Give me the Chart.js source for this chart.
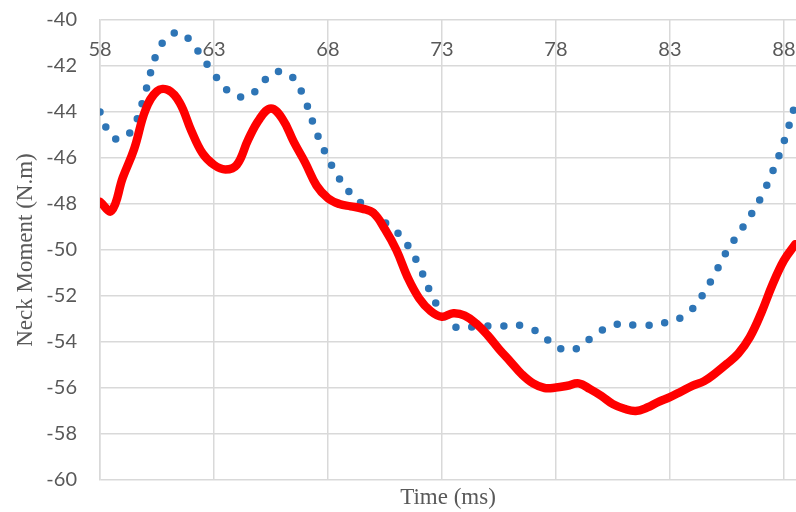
<!DOCTYPE html>
<html>
<head>
<meta charset="utf-8">
<script src="https://cdn.jsdelivr.net/npm/chart.js@4/dist/chart.umd.min.js"></script>
<style>
  html, body { margin: 0; padding: 0; background: #fff; }
  #wrap { width: 796px; height: 512px; }
</style>
</head>
<body>
<div id="wrap"><canvas id="c"></canvas></div>
<script>
'use strict';

// ── Data ──────────────────────────────────────────────────────────────────
const TIME = [
  58, 58.5, 59, 59.5, 60, 60.5, 61, 61.5, 62, 62.5,
  63, 63.5, 64, 64.5, 65, 65.5, 66, 66.5, 67, 67.5,
  68, 68.5, 69, 69.5, 70, 70.5, 71, 71.5, 72, 72.5,
  73, 73.5, 74, 74.5, 75, 75.5, 76, 76.5, 77, 77.5,
  78, 78.5, 79, 79.5, 80, 80.5, 81, 81.5, 82, 82.5,
  83, 83.5, 84, 84.5, 85, 85.5, 86, 86.5, 87, 87.5,
  88, 88.5,
];

// solid red series
const RED_VALUES = [
  -47.9, -48.3, -46.85, -45.6, -43.9, -43.1, -43.05, -43.6, -44.8, -45.8,
  -46.3, -46.5, -46.3, -45.2, -44.3, -43.85, -44.3, -45.3, -46.2, -47.2,
  -47.75, -48.0, -48.1, -48.2, -48.4, -49.1, -50.0, -51.2, -52.1, -52.65,
  -52.9, -52.75, -52.85, -53.2, -53.7, -54.3, -54.85, -55.4, -55.8, -56.0,
  -55.98, -55.9, -55.8, -56.05, -56.35, -56.7, -56.9, -57.0, -56.85, -56.6,
  -56.4, -56.15, -55.9, -55.7, -55.35, -54.95, -54.5, -53.8, -52.75, -51.5,
  -50.45, -49.75,
];

// dotted blue series
const BLUE_VALUES = [
  -44.0, -45.05, -45.15, -44.6, -43.1, -41.43, -40.72, -40.55, -40.95, -41.65,
  -42.35, -42.98, -43.3, -43.32, -42.9, -42.35, -42.25, -42.55, -43.5, -44.9,
  -46.0, -46.9, -47.55, -48.0, -48.38, -48.8, -49.2, -49.8, -50.7, -51.85,
  -52.75, -53.3, -53.38, -53.32, -53.3, -53.3, -53.3, -53.28, -53.45, -53.8,
  -54.2, -54.35, -54.25, -53.85, -53.5, -53.28, -53.2, -53.28, -53.28, -53.22,
  -53.1, -52.93, -52.55, -51.85, -50.98, -50.05, -49.3, -48.55, -47.7, -46.6,
  -45.3, -43.65,
];

const X_TICKS = [58, 63, 68, 73, 78, 83, 88];
const X_MIN = 58;
const X_MAX = 88.53;
const Y_MIN = -60;
const Y_MAX = -40;

// ── Style ─────────────────────────────────────────────────────────────────
const COL_RED   = '#ff0000';
const COL_BLUE  = '#2e75b6';
const COL_GRID  = '#d9d9d9';
const COL_TEXT  = '#595959';
const TICK_FONT  = { family: 'Lato, "Liberation Sans", sans-serif', size: 20 };
const TITLE_FONT = { family: '"Liberation Serif", "Times New Roman", serif', size: 23 };

const toPoints = vals => vals.map((v, i) => ({ x: TIME[i], y: v }));
const noSidePad = s => { s.paddingLeft = 0; s.paddingRight = 0; };

new Chart(document.getElementById('c'), {
  type: 'line',
  data: {
    datasets: [
      {
        label: 'Red',
        data: toPoints(RED_VALUES),
        borderColor: COL_RED,
        borderWidth: 8.5,
        tension: 0.4,
        pointRadius: 0,
        borderCapStyle: 'round',
        borderJoinStyle: 'round',
        xAxisID: 'x',
      },
      {
        label: 'Blue',
        data: toPoints(BLUE_VALUES),
        borderColor: COL_BLUE,
        borderWidth: 7.5,
        borderDash: [0, 16],
        borderCapStyle: 'round',
        tension: 0.4,
        pointRadius: 0,
        xAxisID: 'x',
      },
    ],
  },
  options: {
    responsive: true,
    maintainAspectRatio: false,
    animation: false,
    layout: { padding: { top: 20, right: 0, bottom: 0, left: 0 } },
    plugins: { legend: { display: false }, tooltip: { enabled: false } },
    scales: {
      // axis crosses at y = 0 in the source, so the labels sit just under the top edge
      x: {
        type: 'linear',
        position: { y: Y_MAX },
        min: X_MIN, max: X_MAX,
        afterBuildTicks: s => { s.ticks = X_TICKS.map(v => ({ value: v })); },
        afterFit: noSidePad,
        ticks: { color: COL_TEXT, font: TICK_FONT, padding: 18, maxRotation: 0, autoSkip: false },
        grid: { color: COL_GRID, lineWidth: 1.5, drawTicks: false },
        border: { display: false },
      },
      x2: {
        type: 'linear',
        position: 'bottom',
        min: X_MIN, max: X_MAX,
        afterFit: s => { noSidePad(s); s.height = 32; },
        ticks: { display: false },
        grid: { display: false },
        border: { display: false },
        title: { display: true, text: 'Time (ms)', color: COL_TEXT, font: TITLE_FONT, padding: 0 },
      },
      y: {
        min: Y_MIN, max: Y_MAX,
        afterFit: s => { s.width = 100; s.paddingTop = 0; s.paddingBottom = 0; },
        ticks: { stepSize: 2, color: COL_TEXT, font: TICK_FONT, padding: 23 },
        grid: { color: COL_GRID, lineWidth: 1.5, drawTicks: false },
        border: { color: COL_GRID, width: 1.5 },
        title: {
          display: true, text: 'Neck Moment (N.m)', color: COL_TEXT, font: TITLE_FONT,
          padding: { top: 12, bottom: 0 },
        },
      },
    },
  },
});
</script>
</body>
</html>
